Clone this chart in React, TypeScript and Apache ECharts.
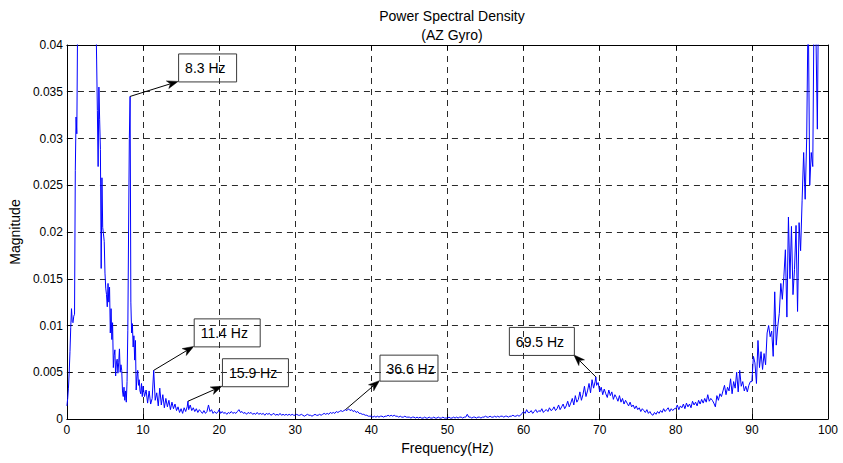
import React, { useEffect, useRef } from "react";
import * as echarts from "echarts";

// PSD magnitude, 0–10 Hz at 0.1 Hz resolution
const magnitude0to10 = [
  0.0014, 0.0022, 0.0033, 0.005, 0.0072, 0.0098, 0.0118, 0.0104, 0.0103, 0.011,
  0.0112, 0.0266, 0.0323, 0.0305, 0.042, 0.06, 0.08, 0.1, 0.12, 0.14,
  0.16, 0.175, 0.185, 0.19, 0.18, 0.165, 0.15, 0.13, 0.11, 0.095,
  0.085, 0.075, 0.068, 0.06, 0.055, 0.05, 0.046, 0.043, 0.044, 0.0385,
  0.033, 0.027, 0.0355, 0.032, 0.0288, 0.0161, 0.0258, 0.0205, 0.0198, 0.019,
  0.0156, 0.014, 0.0133, 0.012, 0.0145, 0.0125, 0.0141, 0.0092, 0.0118, 0.0085,
  0.0103, 0.0055, 0.0068, 0.0074, 0.0046, 0.006, 0.0064, 0.0049, 0.006, 0.0075,
  0.005, 0.0058, 0.0052, 0.003, 0.0024, 0.0034, 0.002, 0.003, 0.0018, 0.004,
  0.0095, 0.02, 0.03, 0.0345, 0.0125, 0.0092, 0.0102, 0.0077, 0.0089, 0.0063,
  0.0084, 0.0031, 0.0045, 0.0052, 0.0036, 0.0042, 0.003, 0.0027, 0.0038, 0.0024,
];

// 10 Hz upwards at 0.2 Hz resolution
const magnitude10to20 = [
  0.0035, 0.0024, 0.0031, 0.0017, 0.003, 0.0016, 0.0022, 0.0052, 0.002, 0.0028,
  0.0014, 0.0033, 0.0015, 0.0026, 0.0012, 0.0022, 0.0013, 0.002, 0.001, 0.0018,
  0.0011, 0.0016, 0.0009, 0.0013, 0.0007, 0.0011, 0.0006, 0.0012, 0.0008, 0.0013,
  0.001, 0.0015, 0.0009, 0.0012, 0.0008, 0.0011, 0.0007, 0.001, 0.0008, 0.0006,
  0.0009, 0.0006, 0.0008, 0.0015, 0.0008, 0.001, 0.0006, 0.0008, 0.0006, 0.0007,
];

const magnitude20to30 = [
  0.001, 0.0006, 0.0008, 0.0006, 0.0007, 0.0005, 0.0007, 0.0006, 0.0008, 0.0006,
  0.0007, 0.0006, 0.0008, 0.001, 0.0007, 0.0008, 0.0006, 0.0007, 0.0005, 0.0007,
  0.0006, 0.0007, 0.0005, 0.0006, 0.0005, 0.0007, 0.0005, 0.0006, 0.0005, 0.0006,
  0.0004, 0.0006, 0.0005, 0.0006, 0.0004, 0.0005, 0.0006, 0.0004, 0.0005, 0.0004,
  0.0006, 0.0004, 0.0005, 0.0004, 0.0005, 0.0004, 0.0005, 0.0004, 0.0005, 0.0004,
];

const magnitude30to40 = [
  0.0004, 0.0005, 0.0004, 0.0004, 0.0005, 0.0004, 0.0003, 0.0004, 0.0005, 0.0004,
  0.0004, 0.0003, 0.0004, 0.0005, 0.0004, 0.0004, 0.0005, 0.0004, 0.0005, 0.0006,
  0.0005, 0.0006, 0.0005, 0.0007, 0.0006, 0.0007, 0.0006, 0.0008, 0.0007, 0.0008,
  0.0009, 0.0008, 0.0009, 0.001, 0.0009, 0.0011, 0.0009, 0.001, 0.0008, 0.0009,
  0.0007, 0.0008, 0.0006, 0.0006, 0.0005, 0.0005, 0.0004, 0.0004, 0.0003, 0.0003,
];

const magnitude40to50 = [
  0.0003, 0.0002, 0.0003, 0.0002, 0.0003, 0.0002, 0.0003, 0.0003, 0.0002, 0.0003,
  0.0003, 0.0004, 0.0003, 0.0004, 0.0003, 0.0004, 0.0003, 0.0003, 0.0002, 0.0003,
  0.0002, 0.0002, 0.0003, 0.0002, 0.0002, 0.0002, 0.0001, 0.0002, 0.0002, 0.0001,
  0.0002, 0.0001, 0.0002, 0.0001, 0.0001, 0.0002, 0.0001, 0.0001, 0.0002, 0.0001,
  0.0001, 0.0002, 0.0001, 0.0001, 0.0002, 0.0001, 0.0001, 0.0002, 0.0001, 0.0001,
];

const magnitude50to60 = [
  0.0001, 0.0002, 0.0001, 0.0001, 0.0002, 0.0001, 0.0002, 0.0001, 0.0002, 0.0002,
  0.0001, 0.0002, 0.0002, 0.0005, 0.0002, 0.0002, 0.0001, 0.0002, 0.0002, 0.0001,
  0.0002, 0.0002, 0.0001, 0.0002, 0.0002, 0.0003, 0.0002, 0.0002, 0.0003, 0.0002,
  0.0002, 0.0003, 0.0002, 0.0003, 0.0002, 0.0003, 0.0003, 0.0002, 0.0003, 0.0003,
  0.0002, 0.0003, 0.0003, 0.0004, 0.0003, 0.0003, 0.0004, 0.0003, 0.0004, 0.0006,
];

const magnitude60to70 = [
  0.0008, 0.0006, 0.001, 0.0007, 0.0007, 0.0009, 0.0006, 0.0008, 0.001, 0.0007,
  0.0009, 0.0008, 0.0011, 0.0007, 0.0009, 0.001, 0.0008, 0.0012, 0.0009, 0.001,
  0.0013, 0.0009, 0.0011, 0.0015, 0.001, 0.0013, 0.0016, 0.0011, 0.0014, 0.0019,
  0.0013, 0.0017, 0.0022, 0.0015, 0.0025, 0.0018, 0.0021, 0.0029, 0.002, 0.0026,
  0.0035, 0.0024, 0.003, 0.0038, 0.0028, 0.0042, 0.0033, 0.004, 0.0036, 0.0039,
];

const magnitude70to80 = [
  0.0029, 0.0034, 0.0026, 0.0032, 0.0027, 0.0023, 0.0031, 0.0025, 0.0029, 0.0021,
  0.0026, 0.0023, 0.0019, 0.0025, 0.0018, 0.0022, 0.0016, 0.002, 0.0017, 0.0014,
  0.0018, 0.0013, 0.0015, 0.0011, 0.0014, 0.001, 0.0012, 0.0008, 0.0011, 0.0009,
  0.0007, 0.001, 0.0006, 0.0008, 0.0005, 0.0004, 0.0007, 0.0005, 0.0008, 0.0006,
  0.0009, 0.0007, 0.0011, 0.0008, 0.001, 0.0012, 0.0008, 0.0011, 0.0009, 0.0011,
];

const magnitude80to90 = [
  0.0011, 0.0015, 0.001, 0.0014, 0.0012, 0.0016, 0.0011, 0.0017, 0.0013, 0.0016,
  0.0012, 0.0019, 0.0015, 0.0018, 0.0014, 0.002, 0.0016, 0.0021, 0.0017, 0.0022,
  0.0018, 0.0026, 0.0019, 0.0022, 0.002, 0.0017, 0.0013, 0.0025, 0.002, 0.0027,
  0.0024, 0.003, 0.0036, 0.0026, 0.0034, 0.003, 0.0043, 0.0027, 0.004, 0.0033,
  0.005, 0.0029, 0.0052, 0.0035, 0.004, 0.003, 0.0035, 0.0029, 0.0036, 0.004,
];

const magnitude90to100 = [
  0.004, 0.0067, 0.006, 0.0038, 0.0084, 0.0055, 0.0072, 0.0053, 0.007, 0.0058,
  0.0092, 0.01, 0.0088, 0.0094, 0.0067, 0.0136, 0.0079, 0.0099, 0.0113, 0.0145,
  0.0128, 0.0152, 0.0181, 0.0109, 0.0216, 0.015, 0.0206, 0.0133, 0.016, 0.0207,
  0.0115, 0.021, 0.018, 0.0234, 0.0285, 0.0235, 0.03, 0.045, 0.025, 0.0285,
  0.027, 0.048, 0.042, 0.031, 0.05, 0.06, 0.07, 0.08, 0.09, 0.1,
  0.11,
];

// Labelled spectral peaks
const peakFrequencies = [8.3, 11.4, 15.9, 36.6, 69.5];
const peakMagnitudes = [0.0345, 0.0052, 0.0019, 0.001, 0.0045];

// Callout box placement relative to each peak (pixels)
const calloutLayout = [
  { dx: 48, dy: -15, w: 58, h: 28, anchor: "bottomLeft" },
  { dx: 40, dy: -24, w: 66, h: 28, anchor: "bottomLeft" },
  { dx: 34, dy: -15, w: 66, h: 28, anchor: "bottomLeft" },
  { dx: 34, dy: -29, w: 58, h: 26, anchor: "bottomLeft" },
  { dx: -22, dy: -22, w: 65, h: 28, anchor: "bottomRight" },
];

const bands = [
  { start: 0, step: 0.1, values: magnitude0to10 },
  { start: 10, step: 0.2, values: magnitude10to20 },
  { start: 20, step: 0.2, values: magnitude20to30 },
  { start: 30, step: 0.2, values: magnitude30to40 },
  { start: 40, step: 0.2, values: magnitude40to50 },
  { start: 50, step: 0.2, values: magnitude50to60 },
  { start: 60, step: 0.2, values: magnitude60to70 },
  { start: 70, step: 0.2, values: magnitude70to80 },
  { start: 80, step: 0.2, values: magnitude80to90 },
  { start: 90, step: 0.2, values: magnitude90to100 },
];

function buildSpectrum(): [number, number][] {
  const pts: [number, number][] = [];
  bands.forEach((b) => {
    b.values.forEach((v, i) => {
      const f = Math.round((b.start + i * b.step) * 10) / 10;
      if (!peakFrequencies.some((p) => Math.abs(p - f) < 1e-6)) pts.push([f, v]);
    });
  });
  peakFrequencies.forEach((f, i) => pts.push([f, peakMagnitudes[i]]));
  pts.sort((a, b) => a[0] - b[0]);
  return pts;
}

const FONT = "'Liberation Sans', Arial, Helvetica, sans-serif";

export default function App() {
  const ref = useRef<HTMLDivElement>(null);

  useEffect(() => {
    if (!ref.current) return;
    const chart = echarts.init(ref.current, undefined, { renderer: "svg" });
    const gridLine = { show: true, lineStyle: { color: "#2a2a2a", width: 1, type: [6, 5] as any } };
    const axisLine = { show: true, onZero: false, lineStyle: { color: "#000", width: 1 } };
    const tick = { show: true, inside: true, length: 5, lineStyle: { color: "#000" } };

    chart.setOption({
      animation: false,
      backgroundColor: "#fff",
      textStyle: { fontFamily: FONT },
      title: [
        {
          text: "Power Spectral Density",
          left: 447,
          top: 4,
          textAlign: "center",
          textStyle: { fontFamily: FONT, fontSize: 14, fontWeight: "normal", color: "#000" },
        },
        {
          text: "(AZ Gyro)",
          left: 447,
          top: 23,
          textAlign: "center",
          textStyle: { fontFamily: FONT, fontSize: 14, fontWeight: "normal", color: "#000" },
        },
      ],
      grid: { left: 66, right: 15, top: 45, bottom: 44, containLabel: false },
      xAxis: [
        {
          type: "value",
          min: 0,
          max: 100,
          interval: 10,
          position: "bottom",
          name: "Frequency(Hz)",
          nameLocation: "middle",
          nameGap: 21,
          nameTextStyle: { fontFamily: FONT, fontSize: 14, color: "#000" },
          axisLine,
          axisTick: tick,
          axisLabel: { fontFamily: FONT, fontSize: 12, color: "#000", margin: 5 },
          splitLine: gridLine,
        },
        {
          type: "value",
          min: 0,
          max: 100,
          interval: 10,
          position: "top",
          axisLine,
          axisTick: tick,
          axisLabel: { show: false },
          splitLine: { show: false },
        },
      ],
      yAxis: [
        {
          type: "value",
          min: 0,
          max: 0.04,
          interval: 0.005,
          position: "left",
          name: "Magnitude",
          nameLocation: "middle",
          nameGap: 41,
          nameTextStyle: { fontFamily: FONT, fontSize: 14, color: "#000" },
          axisLine,
          axisTick: tick,
          axisLabel: { fontFamily: FONT, fontSize: 12, color: "#000", margin: 4 },
          splitLine: gridLine,
        },
        {
          type: "value",
          min: 0,
          max: 0.04,
          interval: 0.005,
          position: "right",
          axisLine,
          axisTick: tick,
          axisLabel: { show: false },
          splitLine: { show: false },
        },
      ],
      series: [
        {
          type: "line",
          data: buildSpectrum(),
          xAxisIndex: 0,
          yAxisIndex: 0,
          showSymbol: false,
          symbol: "none",
          clip: true,
          silent: true,
          lineStyle: { color: "#0000ff", width: 1 },
        },
      ],
    });

    // Callouts: box + arrow from each labelled peak
    const graphics: any[] = [];
    peakFrequencies.forEach((f, i) => {
      const lay = calloutLayout[i];
      const [px, py] = chart.convertToPixel({ seriesIndex: 0 }, [f, peakMagnitudes[i]]) as number[];
      const cx = px + lay.dx;
      const cy = py + lay.dy;
      const bx = lay.anchor === "bottomRight" ? cx - lay.w : cx;
      const by = cy - lay.h;
      const ang = Math.atan2(cy - py, cx - px);
      const ux = Math.cos(ang);
      const uy = Math.sin(ang);
      const nx = -uy;
      const ny = ux;
      const L = 11;
      const W = 4;
      const baseX = cx - L * ux;
      const baseY = cy - L * uy;
      const notchX = cx - (L - 3) * ux;
      const notchY = cy - (L - 3) * uy;
      graphics.push({
        type: "line",
        silent: true,
        shape: { x1: px, y1: py, x2: notchX, y2: notchY },
        style: { stroke: "#000", lineWidth: 1 },
        z: 10,
      });
      graphics.push({
        type: "polygon",
        silent: true,
        shape: {
          points: [
            [cx, cy],
            [baseX + W * nx, baseY + W * ny],
            [notchX, notchY],
            [baseX - W * nx, baseY - W * ny],
          ],
        },
        style: { fill: "#000", stroke: "#000", lineWidth: 0.5 },
        z: 10,
      });
      graphics.push({
        type: "rect",
        silent: true,
        shape: { x: bx + 0.5, y: by + 0.5, width: lay.w, height: lay.h },
        style: { fill: "none", stroke: "#3a3a3a", lineWidth: 1 },
        z: 10,
      });
      graphics.push({
        type: "text",
        silent: true,
        x: bx + 7,
        y: by + lay.h / 2 + 1,
        style: {
          text: `${f} Hz`,
          font: `14px ${FONT}`,
          fill: "#000",
          textAlign: "left",
          textVerticalAlign: "middle",
        },
        z: 11,
      });
    });
    chart.setOption({ graphic: graphics });

    return () => chart.dispose();
  }, []);

  return (
    <div
      ref={ref}
      style={{ position: "fixed", left: 0, top: 0, width: 843, height: 463, background: "#fff" }}
    />
  );
}
